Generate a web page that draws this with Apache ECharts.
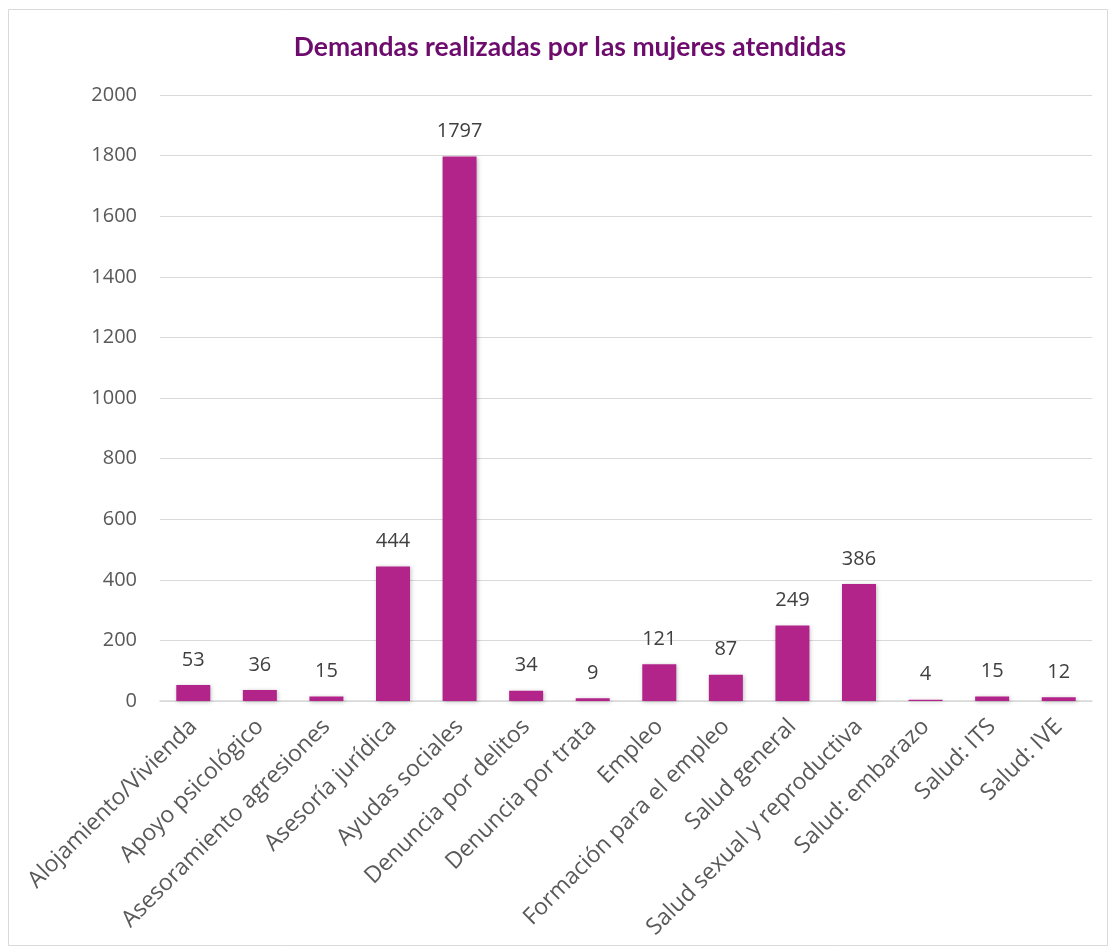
<!DOCTYPE html>
<html>
<head>
<meta charset="utf-8">
<script src="https://cdn.jsdelivr.net/npm/echarts@6/dist/echarts.min.js"></script>
<style>
  body { margin: 0; background: #fff; }
  #chart { width: 1114px; height: 951px; }
</style>
</head>
<body>
<div id="chart"></div>
<script>
var categories = ['Alojamiento/Vivienda', 'Apoyo psicológico', 'Asesoramiento agresiones', 'Asesoría jurídica',
    'Ayudas sociales', 'Denuncia por delitos', 'Denuncia por trata', 'Empleo', 'Formación para el empleo',
    'Salud general', 'Salud sexual y reproductiva', 'Salud: embarazo', 'Salud: ITS', 'Salud: IVE'];
var demandas = [53, 36, 15, 444, 1797, 34, 9, 121, 87, 249, 386, 4, 15, 12];

var chart = echarts.init(document.getElementById('chart'));
chart.setOption({
    textStyle: { fontFamily: 'Open Sans' },
    title: {
        text: 'Demandas realizadas por las mujeres atendidas',
        left: 565,
        textAlign: 'center',
        top: 29,
        textStyle: { color: '#6e0c6e', fontSize: 26.5, fontWeight: 'bold', fontFamily: 'Lato' }
    },
    graphic: [{
        type: 'rect',
        shape: { x: 8.5, y: 9.5, width: 1099, height: 936 },
        style: { fill: 'none', stroke: '#d9d9d9', lineWidth: 1 },
        silent: true
    }],
    grid: { left: 160, right: 22, top: 95, bottom: 250 },
    xAxis: {
        type: 'category',
        data: categories,
        axisLine: { lineStyle: { color: '#d9d9d9', width: 1.5 } },
        axisTick: { show: false },
        axisLabel: { rotate: 45, interval: 0, color: '#595959', fontSize: 23, margin: 22, fontFamily: 'Open Sans' }
    },
    yAxis: {
        type: 'value',
        min: 0,
        max: 2000,
        interval: 200,
        axisLine: { show: false },
        axisTick: { show: false },
        splitLine: { lineStyle: { color: '#d9d9d9', width: 1 } },
        axisLabel: { color: '#595959', fontSize: 20, margin: 23, formatter: function (v) { return String(v); } }
    },
    series: [{
        type: 'bar',
        data: demandas,
        barWidth: 34,
        itemStyle: {
            color: '#b3248a',
            shadowColor: 'rgba(0,0,0,0.25)',
            shadowBlur: 4,
            shadowOffsetX: 1,
            shadowOffsetY: 1
        },
        label: { show: true, position: 'top', distance: 15, color: '#404040', fontSize: 20 }
    }]
});
</script>
</body>
</html>
